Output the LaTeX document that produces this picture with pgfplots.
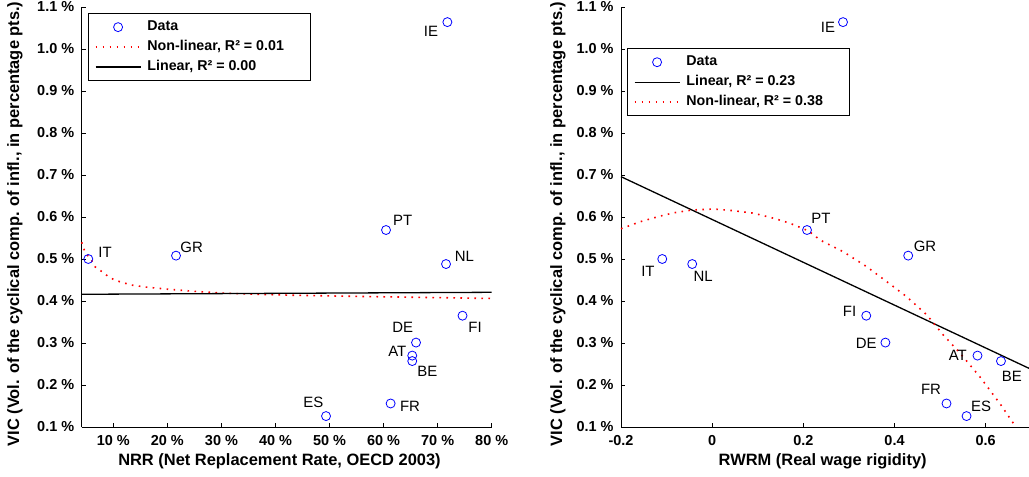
\documentclass[border=0pt]{standalone}
\usepackage{fontspec}
\setmainfont{Liberation Sans}
\usepackage{pgfplots}
\usepackage{pgfplotstable}
\pgfplotsset{compat=1.18}

\pgfplotstableread{
x y
5.37 0.500
21.6 0.508
60.45 0.569
71.8 1.064
71.55 0.488
74.6 0.365
66.0 0.301
65.3 0.270
65.3 0.257
61.3 0.156
49.35 0.126
}\leftdata

\pgfplotstableread{
x y
-0.1095 0.500
0.430 0.508
0.208 0.569
0.287 1.064
-0.0438 0.488
0.338 0.365
0.380 0.301
0.582 0.270
0.6335 0.257
0.514 0.156
0.558 0.126
}\rightdata

\pgfplotstableread{
x y
4.15 0.540
4.8 0.515
5.93 0.498
6.56 0.482
7.78 0.471
8.89 0.460
9.94 0.452
11.18 0.446
13.33 0.438
16.1 0.433
20.1 0.428
25.06 0.423
30.0 0.419
35.0 0.4165
42.4 0.414
50.0 0.412
60.0 0.410
70.0 0.408
80.0 0.406
}\leftnonlin

\pgfplotstableread{
x y
4.15 0.416
80.0 0.4207
}\leftlin

\pgfplotstableread{
x y
-0.2 0.572
-0.157 0.589
-0.113 0.6024
-0.084 0.610
-0.0438 0.6167
0.0036 0.619
0.047 0.615
0.091 0.609
0.135 0.597
0.171 0.585
0.2115 0.5667
0.237 0.545
0.288 0.517
0.339 0.4817
0.383 0.446
0.427 0.410
0.471 0.3667
0.507 0.319
0.544 0.2755
0.587 0.2198
0.631 0.156
0.660 0.110
0.667 0.100
}\rightnonlin

\pgfplotstableread{
x y
-0.2 0.696
0.695 0.2397
}\rightlin

\definecolor{mblue}{RGB}{0,0,255}
\definecolor{mred}{RGB}{255,0,0}

\tikzset{lab/.style={font=\fontsize{15}{17}\selectfont, inner sep=0pt}}

\pgfplotsset{
  mystyle/.style={
    scale only axis,
    height=420bp,
    ymin=0.1, ymax=1.1,
    axis x line*=bottom, axis y line*=left,
    axis line style={-, line width=1bp},
    tick align=inside,
    major tick length=4bp,
    every tick/.style={black, line width=0.8bp},
    ytick={0.1,0.2,...,1.1},
    yticklabels={0.1 \%,0.2 \%,0.3 \%,0.4 \%,0.5 \%,0.6 \%,0.7 \%,0.8 \%,0.9 \%,1.0 \%,1.1 \%},
    tick label style={font=\bfseries\fontsize{14.5}{16}\selectfont},
    xticklabel style={yshift=-5bp},
    yticklabel style={xshift=-4bp},
    label style={font=\bfseries\fontsize{16.5}{18}\selectfont},
    clip=false,
    legend cell align=left,
    legend style={draw=black, line width=1bp, fill=white,
      font=\bfseries\fontsize{14.3}{16}\selectfont,
      inner xsep=6bp, inner ysep=4.6bp, row sep=2.5bp,
      /tikz/every odd column/.append style={column sep=4bp},
      nodes={inner sep=2bp, text height=10.5bp, text depth=3bp}},
    legend image code/.code={\draw[#1] (0bp,0bp) -- (45bp,0bp);},
  },
  datastyle/.style={only marks, mark=o, mark size=4.5bp, mark options={mblue, line width=0.8bp},
    legend image code/.code={\draw[#1] plot coordinates {(22.5bp,0bp)};}},
  nlstyle/.style={mred, line width=1.6bp, dash pattern=on 1.6bp off 5.4bp},
  linstyle/.style={black, line width=1.3bp},
}

\begin{document}
\begin{tikzpicture}
\path[use as bounding box] (0,0) rectangle (1029bp,477bp);

\begin{axis}[mystyle,
  at={(81.7bp,50bp)}, anchor=south west,
  width=410bp,
  xmin=4.15, xmax=80,
  xtick={10,20,...,80},
  xticklabels={10 \%,20 \%,30 \%,40 \%,50 \%,60 \%,70 \%,80 \%},
  xlabel={NRR (Net Replacement Rate, OECD 2003)},
  ylabel={VIC (Vol. of the cyclical comp. of infl., in percentage pts.)},
  xlabel style={at={(axis description cs:0.4824,-0.081)}, anchor=center},
  ylabel style={at={(axis description cs:-0.1627,0.4833)}, anchor=center},
  legend style={at={(axis description cs:0.0161,0.985)}, anchor=north west},
]
\addplot[datastyle] table[x=x,y=y] {\leftdata};
\addlegendentry{\makebox[155bp][l]{Data}}
\addplot[nlstyle] table[x=x,y=y] {\leftnonlin};
\addlegendentry{\makebox[155bp][l]{Non-linear, R² = 0.01}}
\addplot[linstyle] table[x=x,y=y] {\leftlin};
\addlegendentry{\makebox[155bp][l]{Linear, R² = 0.00}}
\node[lab] at (axis cs:68.78,1.043) {IE};
\node[lab] at (axis cs:63.54,0.593) {PT};
\node[lab] at (axis cs:24.5,0.528) {GR};
\node[lab] at (axis cs:8.46,0.516) {IT};
\node[lab] at (axis cs:74.94,0.5055) {NL};
\node[lab] at (axis cs:76.92,0.3364) {FI};
\node[lab] at (axis cs:63.54,0.3364) {DE};
\node[lab] at (axis cs:62.54,0.281) {AT};
\node[lab] at (axis cs:68.09,0.2333) {BE};
\node[lab] at (axis cs:64.89,0.150) {FR};
\node[lab] at (axis cs:47.0,0.158) {ES};
\end{axis}

\begin{axis}[mystyle,
  at={(621bp,50bp)}, anchor=south west,
  width=408bp,
  xmin=-0.2, xmax=0.695,
  xtick={-0.2,0,0.2,0.4,0.6},
  xticklabels={-0.2,0,0.2,0.4,0.6},
  xlabel={RWRM (Real wage rigidity)},
  ylabel={VIC (Vol. of the cyclical comp. of infl., in percentage pts.)},
  xlabel style={at={(axis description cs:0.4943,-0.081)}, anchor=center},
  ylabel style={at={(axis description cs:-0.1544,0.4833)}, anchor=center},
  legend style={at={(axis description cs:0.0154,0.9015)}, anchor=north west},
]
\addplot[datastyle] table[x=x,y=y] {\rightdata};
\addlegendentry{\makebox[155bp][l]{Data}}
\addplot[linstyle] table[x=x,y=y] {\rightlin};
\addlegendentry{\makebox[155bp][l]{Linear, R² = 0.23}}
\addplot[nlstyle] table[x=x,y=y] {\rightnonlin};
\addlegendentry{\makebox[155bp][l]{Non-linear, R² = 0.38}}
\node[lab] at (axis cs:0.254,1.0517) {IE};
\node[lab] at (axis cs:0.2387,0.597) {PT};
\node[lab] at (axis cs:0.467,0.529) {GR};
\node[lab] at (axis cs:-0.141,0.4698) {IT};
\node[lab] at (axis cs:-0.0197,0.4578) {NL};
\node[lab] at (axis cs:0.3013,0.376) {FI};
\node[lab] at (axis cs:0.3379,0.2993) {DE};
\node[lab] at (axis cs:0.5387,0.2698) {AT};
\node[lab] at (axis cs:0.6575,0.2198) {BE};
\node[lab] at (axis cs:0.480,0.1905) {FR};
\node[lab] at (axis cs:0.5897,0.1483) {ES};
\end{axis}
\end{tikzpicture}
\end{document}
